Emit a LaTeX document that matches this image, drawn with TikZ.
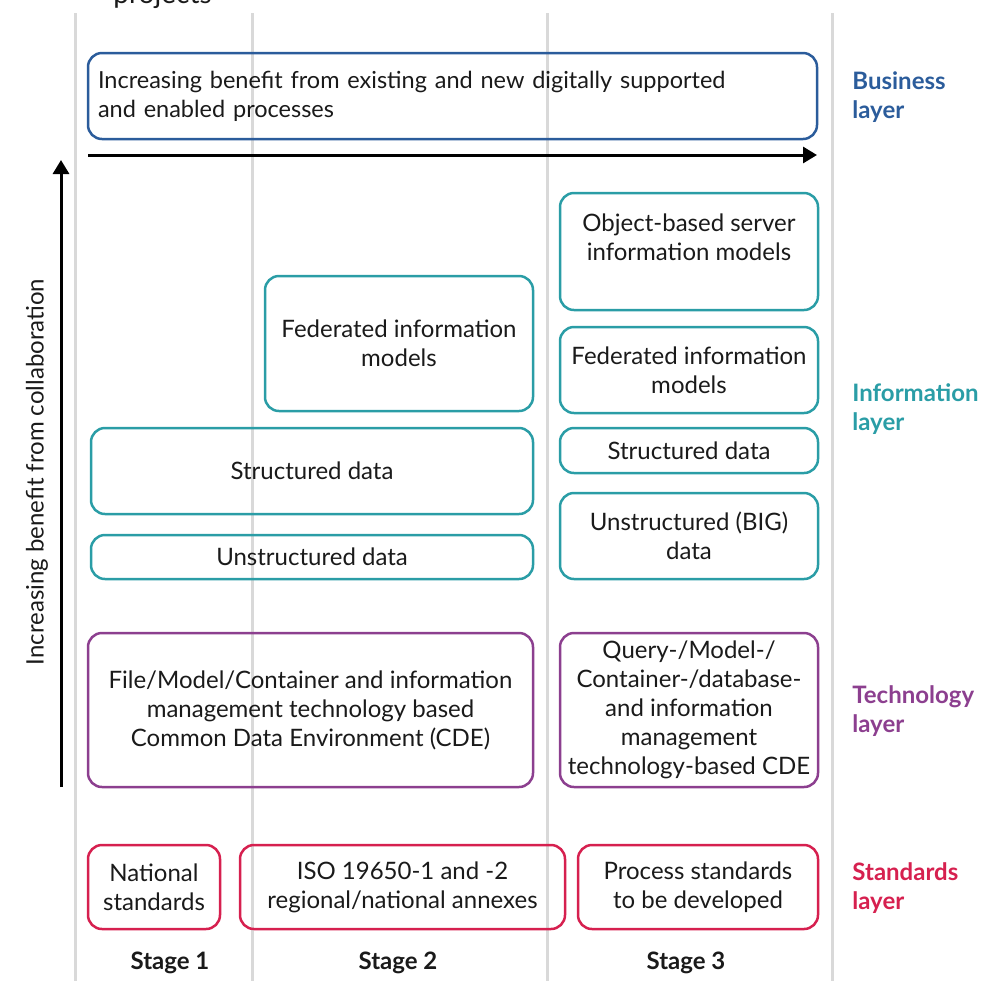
\documentclass[tikz,border=0pt]{standalone}
\usepackage{fontspec}
\setmainfont{Lato}
\usetikzlibrary{arrows.meta}
\definecolor{busblue}{HTML}{2B5C9B}
\definecolor{infoteal}{HTML}{2A9DA6}
\definecolor{techpurple}{HTML}{8C3F8F}
\definecolor{stdred}{HTML}{D6204F}
\definecolor{gridgrey}{HTML}{D9D9D9}
\definecolor{ink}{HTML}{1A1A1A}
\tikzset{
  body/.style={font=\fontsize{12pt}{14.5pt}\selectfont, text=ink},
  layerbox/.style={body, draw=#1, line width=1.25pt, rounded corners=7pt,
    rectangle, align=center, inner sep=0pt},
  buslayer/.style={layerbox=busblue, font=\fontsize{11.75pt}{14.5pt}\selectfont},
  infolayer/.style={layerbox=infoteal},
  techlayer/.style={layerbox=techpurple},
  stdlayer/.style={layerbox=stdred},
  layername/.style={font=\fontsize{12pt}{14.5pt}\selectfont\bfseries,
    text=#1, anchor=west, align=left, inner sep=0pt},
  stagename/.style={body, font=\fontsize{12pt}{14.5pt}\selectfont\bfseries},
  divider/.style={draw=gridgrey, line width=1.5pt},
  growth/.style={draw=black, line width=1.5pt, -{Triangle[length=7pt,width=8pt]}}
}
\begin{document}
\begin{tikzpicture}[x=0.5pt,y=-0.5pt]
\useasboundingbox (0,0) rectangle (985,981);

% stage dividers
\foreach \gx in {75,252,547,832}
  \draw[divider] (\gx,13) -- (\gx,981);

% caption tail above the chart
\node[font=\fontsize{14pt}{17pt}\selectfont, text=ink, anchor=base west, inner sep=0pt]
  (captail) at (113,3) {projects};

% business layer
\node[buslayer, minimum width=364.5pt, minimum height=43pt, align=left,
  text width=354.5pt] (bus) at (452.5,96)
  {Increasing benefit from existing and new digitally supported\\and enabled processes};

% horizontal growth arrow
\coordinate (hstart) at (88,155);
\coordinate (hend) at (817,155);
\draw[growth] (hstart) -- (hend);

% vertical growth arrow with its label
\coordinate (vstart) at (61,787);
\coordinate (vend) at (61,160);
\draw[growth] (vstart) -- (vend);
\node[body, rotate=90, inner sep=0pt] (vlabel) at (37,472)
  {Increasing benefit from collaboration};

% information layer
\node[infolayer, minimum width=134pt, minimum height=67.5pt] (fed2) at (399,343.5)
  {Federated information\\models};
\node[infolayer, minimum width=221pt, minimum height=43pt] (str12) at (312,471)
  {Structured data};
\node[infolayer, minimum width=221pt, minimum height=22pt] (uns12) at (312,557)
  {Unstructured data};
\node[infolayer, minimum width=129pt, minimum height=58.5pt] (obj3) at (689,251.5)
  {Object-based server\\information models\\\mbox{}};
\node[infolayer, minimum width=129pt, minimum height=43pt] (fed3) at (689,370)
  {Federated information\\models};
\node[infolayer, minimum width=129pt, minimum height=22.5pt] (str3) at (689,450.5)
  {Structured data};
\node[infolayer, minimum width=129pt, minimum height=43pt] (uns3) at (689,536)
  {Unstructured (BIG)\\data};

% technology layer
\node[techlayer, minimum width=222.5pt, minimum height=77pt] (tech12) at (310.5,710)
  {File/Model/Container and information\\management technology based\\Common Data Environment (CDE)};
\node[techlayer, minimum width=129pt, minimum height=77pt] (tech3) at (689,710)
  {Query-/Model-/\\Container-/database-\\and information\\management\\technology-based CDE};

% standards layer
\node[stdlayer, minimum width=66pt, minimum height=42pt] (std1) at (154,887)
  {National\\standards};
\node[stdlayer, minimum width=162.5pt, minimum height=42pt] (std2) at (402.5,887)
  {ISO 19650-1 and -2\\regional/national annexes};
\node[stdlayer, minimum width=120pt, minimum height=42pt] (std3) at (698,887)
  {Process standards\\to be developed};

% stage names
\node[stagename] (stage1) at (170,963) {Stage 1};
\node[stagename] (stage2) at (398,963) {Stage 2};
\node[stagename] (stage3) at (686,963) {Stage 3};

% layer names
\node[layername=busblue] (busname) at (852,97) {Business\\layer};
\node[layername=infoteal] (infoname) at (852,409) {Information\\layer};
\node[layername=techpurple] (techname) at (852,711) {Technology\\layer};
\node[layername=stdred] (stdname) at (852,888) {Standards\\layer};
\end{tikzpicture}
\end{document}
